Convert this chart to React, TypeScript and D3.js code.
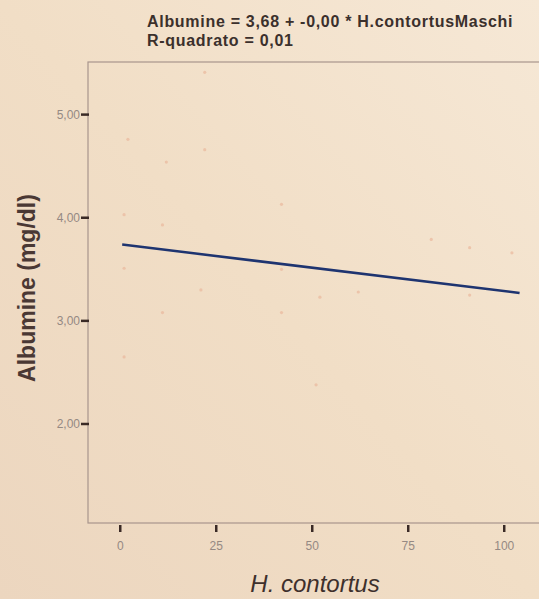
import React from "react";
import * as d3 from "d3";

const xTicks = [0, 25, 50, 75, 100];
const yTicks = [2, 3, 4, 5];
const yTickLabels = ["2,00", "3,00", "4,00", "5,00"];
const pointX = [22, 2, 22, 12, 1, 11, 1, 21, 42, 42, 81, 91, 102, 11, 42, 1, 52, 62, 91, 51];
const pointY = [5.41, 4.76, 4.66, 4.54, 4.03, 3.93, 3.51, 3.3, 4.13, 3.5, 3.79, 3.71, 3.66, 3.08, 3.08, 2.65, 3.23, 3.28, 3.25, 2.38];
const fitX = [0.5, 104];
const fitY = [3.74, 3.27];
const titleLines = ["Albumine = 3,68 + -0,00 * H.contortusMaschi", "R-quadrato = 0,01"];

export default function App() {
  const W = 539, H = 599;
  const left = 88, right = 548, top = 62, bottom = 523;
  const x = d3.scaleLinear().domain([-8.4, 111.4]).range([left, right]);
  const y = d3.scaleLinear().domain([1.04, 5.51]).range([bottom, top]);
  const line = d3.line<number>().x((_, i) => x(fitX[i])).y((d) => y(d));
  const font = "'Liberation Sans', Arial, sans-serif";
  return (
    <svg width={W} height={H} style={{ position: "absolute", left: 0, top: 0 }} fontFamily={font}>
      <defs>
        <linearGradient id="bg" x1="1" y1="0" x2="0" y2="1">
          <stop offset="0" stopColor="#f6e8d6" />
          <stop offset="0.5" stopColor="#f1dec6" />
          <stop offset="1" stopColor="#ecd6bf" />
        </linearGradient>
      </defs>
      <rect width={W} height={H} fill="url(#bg)" />
      {titleLines.map((t, i) => (
        <text key={i} x={147} y={27 + i * 19} fontSize={16} letterSpacing={0.7} fontWeight="bold" fill="#3b302c">{t}</text>
      ))}
      <rect x={left} y={top} width={right - left} height={bottom - top} fill="none" stroke="#a8958d" strokeWidth={1.2} />
      {pointX.map((px, i) => (
        <circle key={i} cx={x(px)} cy={y(pointY[i])} r={1.6} fill="#e9b89c" opacity={0.7} />
      ))}
      <path d={line(fitY) || ""} fill="none" stroke="#1e3470" strokeWidth={2.5} />
      {yTicks.map((t, i) => (
        <g key={t}>
          <line x1={left - 7} x2={left + 1} y1={y(t)} y2={y(t)} stroke="#3a2a26" strokeWidth={2.5} />
          <text x={left - 8} y={y(t)} dy="0.35em" textAnchor="end" fontSize={12} fill="#958983">{yTickLabels[i]}</text>
        </g>
      ))}
      {xTicks.map((t) => (
        <g key={t}>
          <line x1={x(t)} x2={x(t)} y1={bottom + 2} y2={bottom + 9} stroke="#3a2a26" strokeWidth={2.5} />
          <text x={x(t)} y={bottom + 27} textAnchor="middle" fontSize={12} fill="#958983">{t}</text>
        </g>
      ))}
      <text transform={`translate(35,288) rotate(-90)`} textAnchor="middle" fontSize={23} fontWeight="bold" fill="#4a3834">Albumine (mg/dl)</text>
      <text x={315} y={592} textAnchor="middle" fontSize={24} fontStyle="italic" fill="#3e302c">H. contortus</text>
    </svg>
  );
}
